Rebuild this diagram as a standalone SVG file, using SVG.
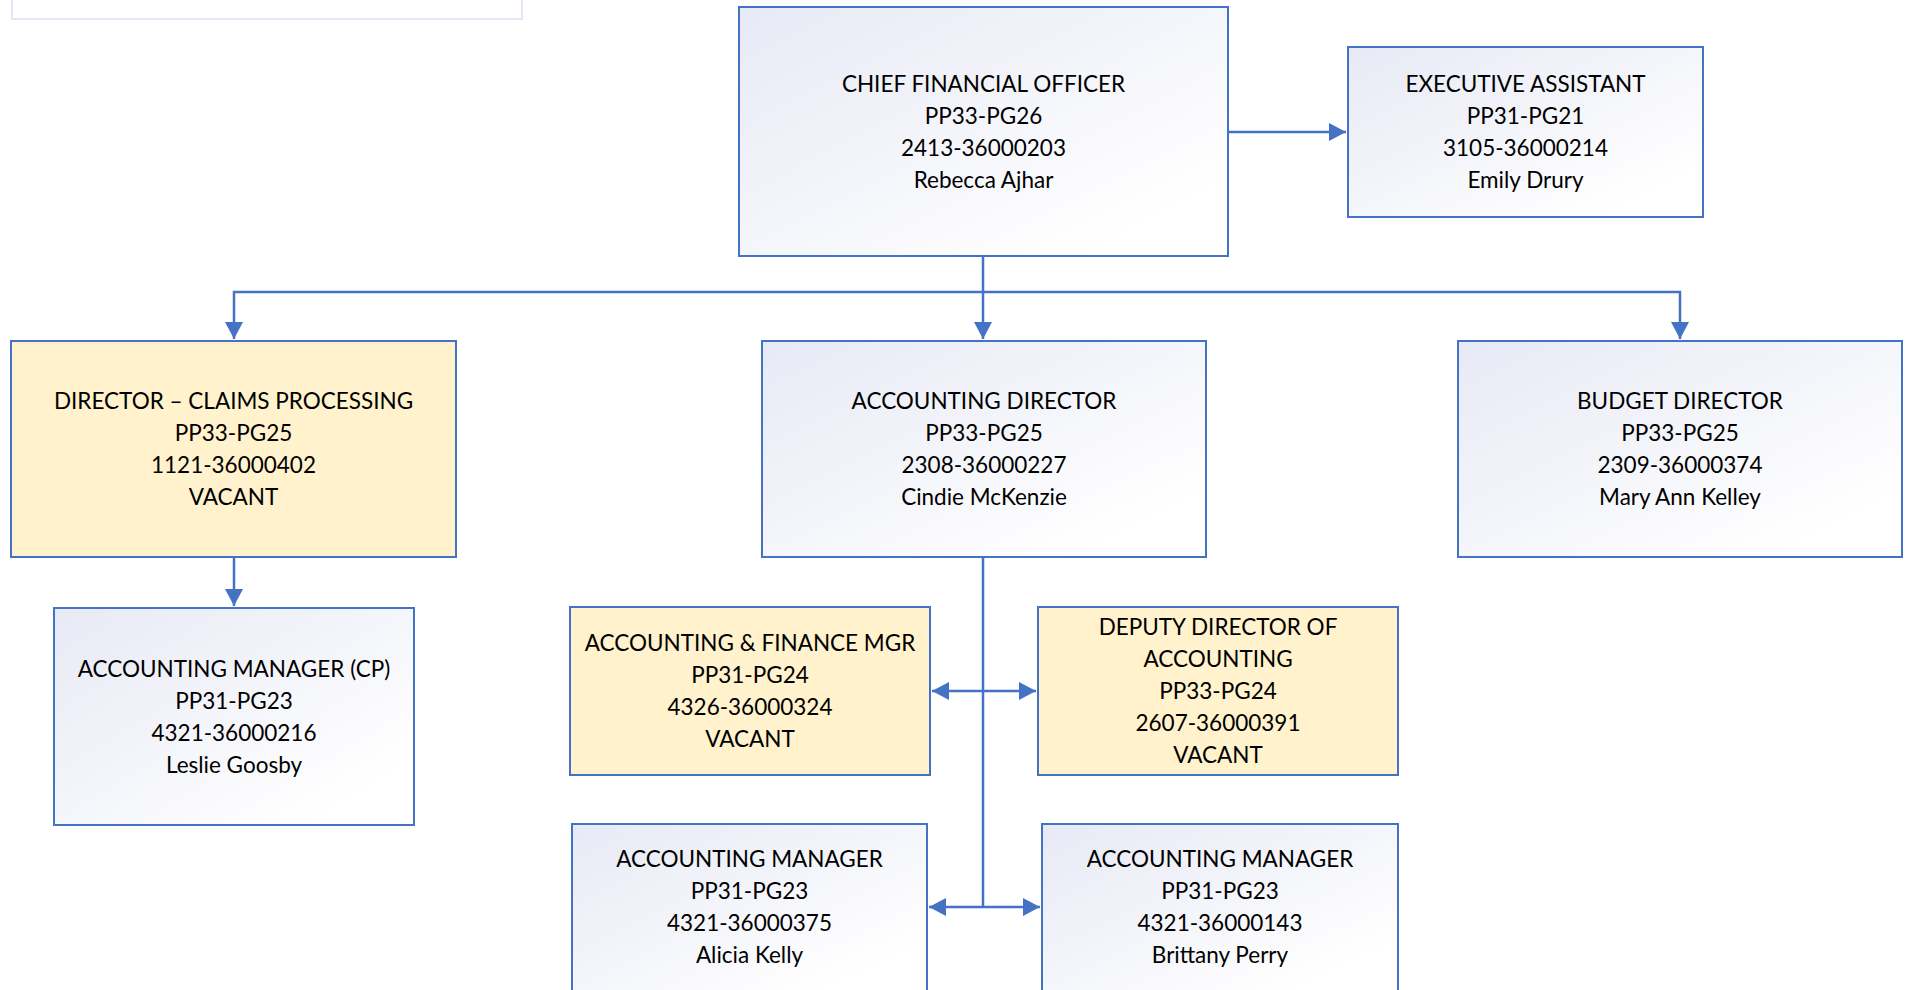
<svg xmlns="http://www.w3.org/2000/svg" width="1908" height="990" viewBox="0 0 1908 990">
  <defs>
    <linearGradient id="lav" x1="0" y1="0" x2="1" y2="1">
      <stop offset="0" stop-color="#e7e9f5"/>
      <stop offset="0.85" stop-color="#ffffff"/>
    </linearGradient>
    <marker id="arr" markerUnits="userSpaceOnUse" markerWidth="18" markerHeight="18" refX="17" refY="9" orient="auto">
      <path d="M0,0 L17,9 L0,18 z" fill="#4472c4"/>
    </marker>
    <style>
      .box { fill: url(#lav); stroke: #4472c4; stroke-width: 2; }
      .vac { fill: #fff2cc; stroke: #4472c4; stroke-width: 2; }
      .ghost { fill: #ffffff; stroke: #e4e8f4; stroke-width: 2; }
      .lbl { font-family: Lato, "Open Sans", sans-serif; font-size: 22.5px; fill: #000000; text-anchor: middle; }
      .con { fill: none; stroke: #4472c4; stroke-width: 2.5; }
    </style>
  </defs>

  <rect width="1908" height="990" fill="#ffffff"/>

  <!-- faint frame at the top left -->
  <rect class="ghost" x="12" y="-20" width="510" height="39"/>

  <!-- reporting lines -->
  <g id="connectors">
    <path class="con" d="M983,256 V292 H234 V339" marker-end="url(#arr)"/>
    <path class="con" d="M983,292 V339" marker-end="url(#arr)"/>
    <path class="con" d="M983,292 H1680 V339" marker-end="url(#arr)"/>
    <path class="con" d="M1228,132 H1346" marker-end="url(#arr)"/>
    <path class="con" d="M234,557 V606" marker-end="url(#arr)"/>
    <path class="con" d="M983,557 V907"/>
    <path class="con" d="M983,691 H932" marker-end="url(#arr)"/>
    <path class="con" d="M983,691 H1036" marker-end="url(#arr)"/>
    <path class="con" d="M983,907 H929" marker-end="url(#arr)"/>
    <path class="con" d="M983,907 H1040" marker-end="url(#arr)"/>
  </g>

  <g id="cfo">
    <rect class="box" x="739" y="7" width="489" height="249"/>
    <text class="lbl" x="983.5" y="91.5">CHIEF FINANCIAL OFFICER</text>
    <text class="lbl" x="983.5" y="123.5">PP33-PG26</text>
    <text class="lbl" x="983.5" y="155.5">2413-36000203</text>
    <text class="lbl" x="983.5" y="187.5">Rebecca Ajhar</text>
  </g>

  <g id="executive-assistant">
    <rect class="box" x="1348" y="47" width="355" height="170"/>
    <text class="lbl" x="1525.5" y="92">EXECUTIVE ASSISTANT</text>
    <text class="lbl" x="1525.5" y="124">PP31-PG21</text>
    <text class="lbl" x="1525.5" y="156">3105-36000214</text>
    <text class="lbl" x="1525.5" y="188">Emily Drury</text>
  </g>

  <g id="director-claims">
    <rect class="vac" x="11" y="341" width="445" height="216"/>
    <text class="lbl" x="233.5" y="409">DIRECTOR – CLAIMS PROCESSING</text>
    <text class="lbl" x="233.5" y="441">PP33-PG25</text>
    <text class="lbl" x="233.5" y="473">1121-36000402</text>
    <text class="lbl" x="233.5" y="505">VACANT</text>
  </g>

  <g id="accounting-director">
    <rect class="box" x="762" y="341" width="444" height="216"/>
    <text class="lbl" x="984" y="409">ACCOUNTING DIRECTOR</text>
    <text class="lbl" x="984" y="441">PP33-PG25</text>
    <text class="lbl" x="984" y="473">2308-36000227</text>
    <text class="lbl" x="984" y="505">Cindie McKenzie</text>
  </g>

  <g id="budget-director">
    <rect class="box" x="1458" y="341" width="444" height="216"/>
    <text class="lbl" x="1680" y="409">BUDGET DIRECTOR</text>
    <text class="lbl" x="1680" y="441">PP33-PG25</text>
    <text class="lbl" x="1680" y="473">2309-36000374</text>
    <text class="lbl" x="1680" y="505">Mary Ann Kelley</text>
  </g>

  <g id="accounting-manager-cp">
    <rect class="box" x="54" y="608" width="360" height="217"/>
    <text class="lbl" x="234" y="677">ACCOUNTING MANAGER (CP)</text>
    <text class="lbl" x="234" y="709">PP31-PG23</text>
    <text class="lbl" x="234" y="741">4321-36000216</text>
    <text class="lbl" x="234" y="773">Leslie Goosby</text>
  </g>

  <g id="accounting-finance-mgr">
    <rect class="vac" x="570" y="607" width="360" height="168"/>
    <text class="lbl" x="750" y="651">ACCOUNTING &amp; FINANCE MGR</text>
    <text class="lbl" x="750" y="683">PP31-PG24</text>
    <text class="lbl" x="750" y="715">4326-36000324</text>
    <text class="lbl" x="750" y="747">VACANT</text>
  </g>

  <g id="deputy-director">
    <rect class="vac" x="1038" y="607" width="360" height="168"/>
    <text class="lbl" x="1218" y="635">DEPUTY DIRECTOR OF</text>
    <text class="lbl" x="1218" y="667">ACCOUNTING</text>
    <text class="lbl" x="1218" y="699">PP33-PG24</text>
    <text class="lbl" x="1218" y="731">2607-36000391</text>
    <text class="lbl" x="1218" y="763">VACANT</text>
  </g>

  <g id="accounting-manager-kelly">
    <rect class="box" x="572" y="824" width="355" height="168"/>
    <text class="lbl" x="749.5" y="867">ACCOUNTING MANAGER</text>
    <text class="lbl" x="749.5" y="899">PP31-PG23</text>
    <text class="lbl" x="749.5" y="931">4321-36000375</text>
    <text class="lbl" x="749.5" y="963">Alicia Kelly</text>
  </g>

  <g id="accounting-manager-perry">
    <rect class="box" x="1042" y="824" width="356" height="168"/>
    <text class="lbl" x="1220" y="867">ACCOUNTING MANAGER</text>
    <text class="lbl" x="1220" y="899">PP31-PG23</text>
    <text class="lbl" x="1220" y="931">4321-36000143</text>
    <text class="lbl" x="1220" y="963">Brittany Perry</text>
  </g>
</svg>
